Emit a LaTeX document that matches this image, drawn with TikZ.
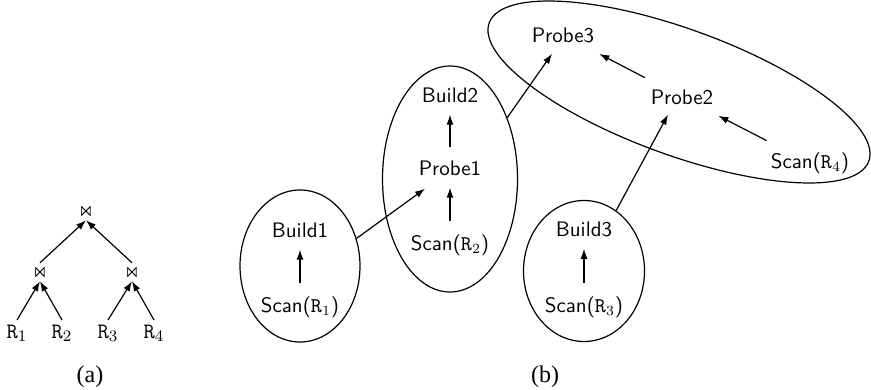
\documentclass[tikz,border=0pt]{standalone}
\usepackage{amssymb}
\usepackage{fontspec}
\newfontfamily\capfont{Liberation Serif}
\usetikzlibrary{arrows.meta,shapes.geometric}

\begin{document}
\begin{tikzpicture}[x=0.5pt, y=-0.5pt, line width=0.6pt,
    every node/.style={font=\sffamily\fontsize{10.5}{12}\selectfont},
    op/.style={inner sep=1pt, font=\fontsize{10}{11}\selectfont},
    rel/.style={inner sep=2pt, font=\fontsize{11}{13}\selectfont},
    grp/.style={draw, ellipse, inner sep=0pt},
    arr/.style={-{Latex[length=5pt,width=3.5pt]}},
    flow/.style={arr, shorten <=3pt, shorten >=2.5pt},
    sublabel/.style={font=\capfont\fontsize{12}{14}\selectfont}]
    \useasboundingbox (0,0) rectangle (871,390);

    % (a) join tree
    \node[op] (j0) at (86,211) {$\Join$};
    \node[op] (j1) at (40,272) {$\Join$};
    \node[op] (j2) at (132,272) {$\Join$};
    \foreach \i/\x in {1/17,2/62,3/108,4/154}
        \node[rel] (r\i) at (\x,333) {$\mathtt{R}_\i$};
    \draw[arr] (r1.north) -- (j1.south);
    \draw[arr] (r2.north) -- (j1.south);
    \draw[arr] (r3.north) -- (j2.south);
    \draw[arr] (r4.north) -- (j2.south);
    \draw[arr] (j1.north) -- (j0.south);
    \draw[arr] (j2.north) -- (j0.south);
    \node[sublabel] (capa) at (90,377) {(a)};

    % (b) operators grouped in pipelines
    \node (build1) at (300,230) {Build1};
    \node (scan1) at (300,307) {Scan($\mathtt{R}_1$)};
    \node (build2) at (450,95) {Build2};
    \node (probe1) at (450,168) {Probe1};
    \node (scan2) at (450,245) {Scan($\mathtt{R}_2$)};
    \node (build3) at (584,229) {Build3};
    \node (scan3) at (584,307) {Scan($\mathtt{R}_3$)};
    \node (probe3) at (563,35) {Probe3};
    \node (probe2) at (682,97) {Probe2};
    \node (scan4) at (810,163) {Scan($\mathtt{R}_4$)};

    \node[grp, minimum width=60pt, minimum height=76pt] (e1) at (300,266) {};
    \node[grp, minimum width=67.5pt, minimum height=113pt] (e2) at (450,179) {};
    \node[grp, minimum width=60.5pt, minimum height=70.5pt] (e3) at (584,271) {};
    \node[grp, rotate=-20, minimum width=202pt, minimum height=63pt] (e4) at (679,92) {};

    \draw[flow] (scan1) -- (build1);
    \draw[flow] (scan2) -- (probe1);
    \draw[flow] (probe1) -- (build2);
    \draw[flow] (scan3) -- (build3);
    \draw[flow, shorten <=5pt, shorten >=4.5pt] (scan4) -- (probe2);
    \draw[flow, shorten <=5pt, shorten >=4.5pt] (probe2) -- (probe3);

    \draw[arr] (e1.26) -- ([shift={(-25,6)}]probe1.south);
    \draw[arr] (e2.47) -- ([shift={(-11,4)}]probe3.south);
    \draw[arr] (e3.62) -- ([shift={(-14,3)}]probe2.south);
    \node[sublabel] (capb) at (545,377) {(b)};
\end{tikzpicture}
\end{document}
